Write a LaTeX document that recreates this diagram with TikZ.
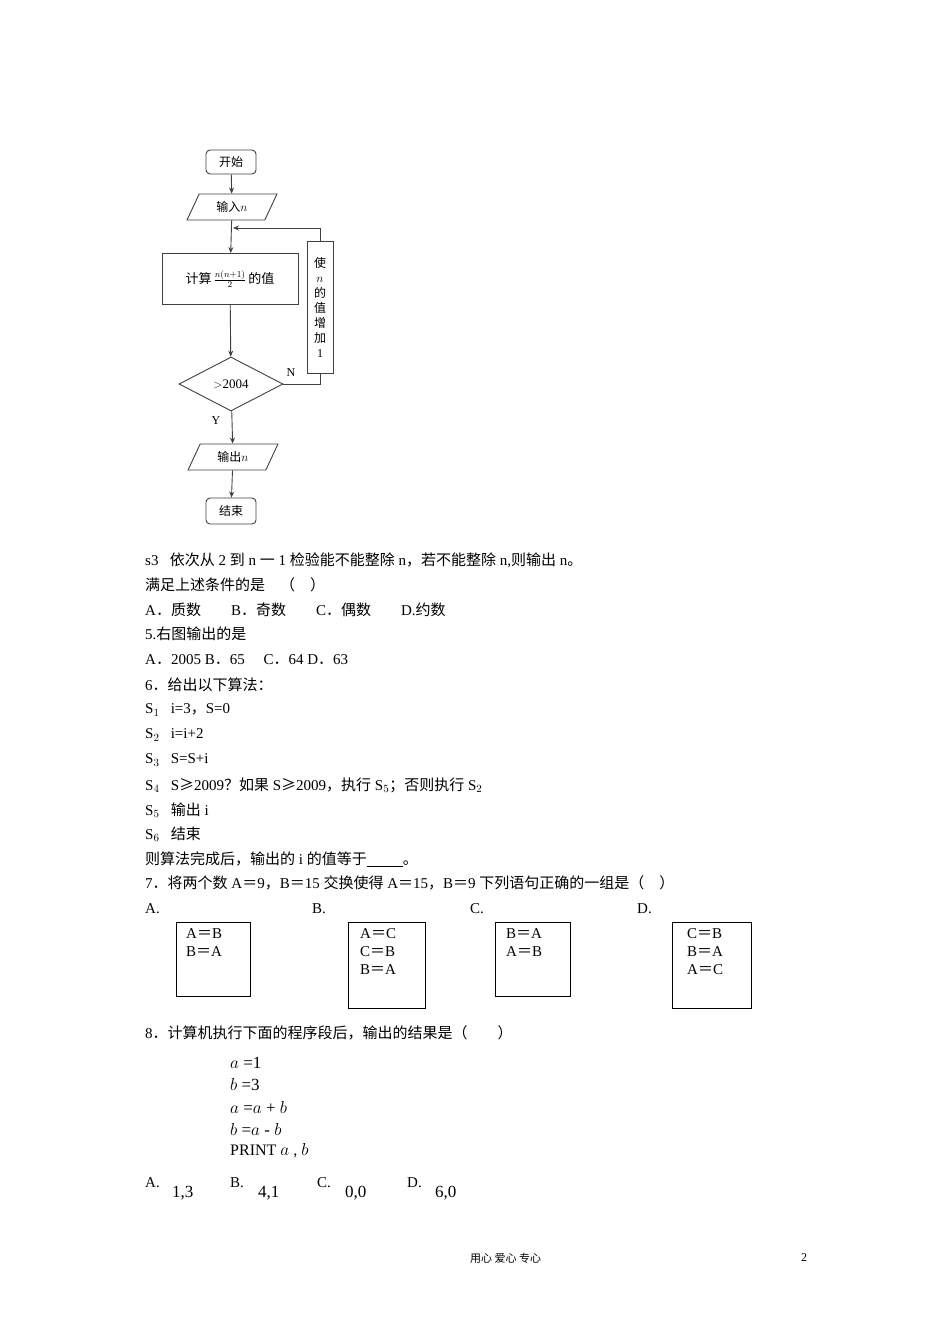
\documentclass[tikz,border=0pt]{standalone}
\usepackage{fontspec}
\setmainfont{Liberation Serif}
\newfontfamily\zhf{Noto Sans CJK SC}
\newcommand{\zh}[1]{{\zhf #1}}
\usetikzlibrary{shapes.geometric,arrows.meta}
\begin{document}
\begin{tikzpicture}[x=1pt,y=-1pt,
  fc/.style={draw=black!75,line width=0.9pt},
  arr/.style={draw=black!75,line width=0.9pt,-{Stealth[length=6pt,width=5pt]}},
  tx/.style={anchor=west,inner sep=0pt,font=\fontsize{15}{15}\selectfont},
  bx/.style={draw,line width=0.8pt,anchor=north west,inner sep=0pt}]
\useasboundingbox[fill=white] (0,0) rectangle (950,1344);
% flowchart
\node[fc,rounded corners=4pt,minimum width=50pt,minimum height=24pt,inner sep=0pt,font=\fontsize{12}{12}\selectfont] (s) at (231,162) {\zh{开始}};
\node[fc,trapezium,trapezium left angle=65,trapezium right angle=115,minimum width=62pt,minimum height=26pt,inner sep=1pt,font=\fontsize{12}{12}\selectfont] (in) at (232,207) {\zh{输入}$n$};
\node[fc,minimum width=136pt,minimum height=51pt,inner sep=0pt,font=\fontsize{13}{13}\selectfont] (calc) at (230,279) {\zh{计算}\,$\frac{n(n+1)}{2}$\,\zh{的值}};
\node[fc,diamond,aspect=1.9,minimum width=104pt,minimum height=54pt,inner sep=0pt,font=\fontsize{13}{13}\selectfont] (d) at (231,384) {$>$2004};
\node[fc,trapezium,trapezium left angle=65,trapezium right angle=115,minimum width=62pt,minimum height=26pt,inner sep=1pt,font=\fontsize{12}{12}\selectfont] (out) at (233,457) {\zh{输出}$n$};
\node[fc,rounded corners=4pt,minimum width=50pt,minimum height=26pt,inner sep=0pt,font=\fontsize{12}{12}\selectfont] (e) at (231,511) {\zh{结束}};
\node[fc,minimum width=26pt,minimum height=132pt,inner sep=0pt,align=center,font=\fontsize{12}{15}\selectfont] (inc) at (320,307) {\zh{使}\\$n$\\\zh{的}\\\zh{值}\\\zh{增}\\\zh{加}\\1};
\coordinate (m) at (233,228);
\draw[arr] (s) -- (in);
\draw[arr] (in) -- (calc);
\draw[arr] (calc) -- (d);
\draw[arr] (d) -- (out);
\draw[arr] (out) -- (e);
\draw[fc] (d.east) -| (inc.south);
\draw[arr] (inc.north) |- (m);
\node[font=\fontsize{12}{12}\selectfont] (nl) at (291,373) {N};
\node[font=\fontsize{12}{12}\selectfont] (yl) at (216,421) {Y};
% text
\node[tx] (l1) at (145,560) {s3\ \ \ \zh{依次从} 2 \zh{到} n \zh{一} 1 \zh{检验能不能整除} n\zh{，若不能整除} n,\zh{则输出} n\zh{。}};
\node[tx] (l2) at (145,585) {\zh{满足上述条件的是　（　）}};
\node[tx] (l3) at (145,610) {A\zh{．质数　　}B\zh{．奇数　　}C\zh{．偶数　　}D.\zh{约数}};
\node[tx] (l4) at (145,634) {5.\zh{右图输出的是}};
\node[tx] (l5) at (145,660) {A\zh{．}2005 B\zh{．}65\quad\ C\zh{．}64 D\zh{．}63};
\node[tx] (l6) at (145,685) {6\zh{．给出以下算法：}};
\node[tx] (l7) at (145,710) {S$_1$\ \ \ i=3\zh{，}S=0};
\node[tx] (l8) at (145,735) {S$_2$\ \ \ i=i+2};
\node[tx] (l9) at (145,760) {S$_3$\ \ \ S=S+i};
\node[tx] (l10) at (145,785) {S$_4$\ \ \ S\zh{≥}2009\zh{？如果} S\zh{≥}2009\zh{，执行} S$_5$\zh{；否则执行} S$_2$};
\node[tx] (l11) at (145,810) {S$_5$\ \ \ \zh{输出} i};
\node[tx] (l12) at (145,834) {S$_6$\ \ \ \zh{结束}};
\node[tx] (l13) at (145,859) {\zh{则算法完成后，输出的} i \zh{的值等于}\underline{\hspace{36pt}}\zh{。}};
\node[tx] (l14) at (145,883) {7\zh{．将两个数} A\zh{＝}9\zh{，}B\zh{＝}15 \zh{交换使得} A\zh{＝}15\zh{，}B\zh{＝}9 \zh{下列语句正确的一组是（　）}};
\node[tx] (oa) at (145,909) {A.};
\node[tx] (ob) at (312,909) {B.};
\node[tx] (oc) at (470,909) {C.};
\node[tx] (od) at (637,909) {D.};
\draw[line width=0.8pt] (176,922) rectangle (250,996);
\draw[line width=0.8pt] (348,922) rectangle (425,1008);
\draw[line width=0.8pt] (495,922) rectangle (570,996);
\draw[line width=0.8pt] (672,922) rectangle (751,1008);
\node[tx,align=left,font=\fontsize{15}{18}\selectfont,anchor=north west] (ta) at (186,928) {A\zh{＝}B\\B\zh{＝}A};
\node[tx,align=left,font=\fontsize{15}{18}\selectfont,anchor=north west] (tb) at (360,928) {A\zh{＝}C\\C\zh{＝}B\\B\zh{＝}A};
\node[tx,align=left,font=\fontsize{15}{18}\selectfont,anchor=north west] (tc) at (506,928) {B\zh{＝}A\\A\zh{＝}B};
\node[tx,align=left,font=\fontsize{15}{18}\selectfont,anchor=north west] (td) at (687,928) {C\zh{＝}B\\B\zh{＝}A\\A\zh{＝}C};
\node[tx] (l15) at (145,1033) {8\zh{．计算机执行下面的程序段后，输出的结果是（　　）}};
\node[tx,font=\fontsize{17}{17}\selectfont] (p1) at (230,1063) {$a$ =1};
\node[tx,font=\fontsize{17}{17}\selectfont] (p2) at (230,1085) {$b$ =3};
\node[tx,font=\fontsize{17}{17}\selectfont] (p3) at (230,1107) {$a$ =$a$ + $b$};
\node[tx,font=\fontsize{17}{17}\selectfont] (p4) at (230,1129) {$b$ =$a$ - $b$};
\node[tx,font=\fontsize{16}{16}\selectfont] (p5) at (230,1151) {PRINT $a$ , $b$};
\node[tx] (qa) at (145,1183) {A.};
\node[tx,font=\fontsize{17}{17}\selectfont] (va) at (172,1193) {1,3};
\node[tx] (qb) at (230,1183) {B.};
\node[tx,font=\fontsize{17}{17}\selectfont] (vb) at (258,1193) {4,1};
\node[tx] (qc) at (317,1183) {C.};
\node[tx,font=\fontsize{17}{17}\selectfont] (vc) at (345,1193) {0,0};
\node[tx] (qd) at (407,1183) {D.};
\node[tx,font=\fontsize{17}{17}\selectfont] (vd) at (435,1193) {6,0};
\node[tx,font=\fontsize{11}{11}\selectfont] (f1) at (470,1258) {\zh{用心 爱心 专心}};
\node[tx,font=\fontsize{12}{12}\selectfont] (f2) at (801,1258) {2};
\end{tikzpicture}
\end{document}
